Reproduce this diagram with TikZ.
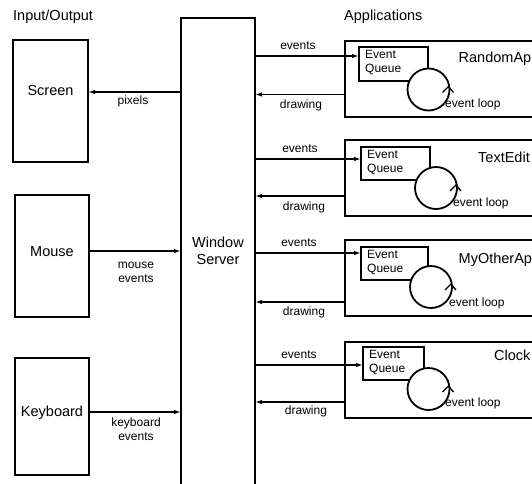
\documentclass[tikz,border=0pt]{standalone}
\usepackage{fontspec}
\setmainfont{Liberation Sans}
\usetikzlibrary{arrows.meta,calc}
\begin{document}
\begin{tikzpicture}[x=1pt,y=-1pt,
  box/.style={draw, line width=1.4pt, anchor=north west, inner sep=0pt, outer sep=0pt},
  appbox/.style={draw, line width=1.8pt, anchor=north west, inner sep=0pt, outer sep=0pt},
  qbox/.style={draw, line width=1.5pt, anchor=north west, inner sep=0pt, outer sep=0pt},
  big/.style={font=\fontsize{14.5}{17}\selectfont, inner sep=0pt, anchor=base},
  small/.style={font=\fontsize{12}{14}\selectfont, inner sep=0pt, anchor=base},
  arr/.style={line width=1.4pt, -{Latex[length=7pt,width=4.5pt]}},
  loopc/.style={circle, draw, line width=1.8pt, fill=white, minimum size=42pt, inner sep=0pt, outer sep=0pt},
  chev/.style={line width=1.3pt, line join=miter},
]
\useasboundingbox (0,0) rectangle (532,483);
\clip (0,0) rectangle (532,483);

% Input/Output side
\node[big, anchor=base west] (iolab) at (13,20) {Input/Output};
\node[big, anchor=base west] (applab) at (344,20) {Applications};

\node[box, minimum width=75pt, minimum height=122pt] (screen) at (13,40) {};
\node[box, minimum width=74pt, minimum height=122pt] (mouse) at (15,195) {};
\node[box, minimum width=74pt, minimum height=117pt] (keyb) at (15,358) {};
\node[big] (screent) at (50.5,95) {Screen};
\node[big] (mouset) at (52,256) {Mouse};
\node[big] (keybt) at (52,416) {Keyboard};

\node[box, minimum width=74pt, minimum height=520pt] (ws) at (181,18) {};
\node[big, align=center] (wst) at (218,264) {Window\\Server};

\draw[arr] (ws.west |- 0,92) -- (screen.east |- 0,92);
\draw[arr] (mouse.east |- 0,251) -- (ws.west |- 0,251);
\draw[arr] (keyb.east |- 0,412) -- (ws.west |- 0,412);
\node[small] (pixl) at (133,104) {pixels};
\node[small, align=center] (mousel) at (136,282) {mouse\\events};
\node[small, align=center] (keybl) at (136,440) {keyboard\\events};

% Applications
\foreach \n/\T/\ev/\dr/\evl/\evx/\drl/\drx/\qx/\qy/\qw/\qh/\cx/\cy/\elx/\ely/\tx/\ty/\title in {
  a/41/56/94.5/49.5/298/108/301/359/47/69/34/428.5/89.5/445/107/458.5/62/RandomAp,
  b/140/159/196/152/300/210/304/361/147/69/33/436/188/453/206/478/162/TextEdit,
  c/240/253/302/246/299/315/304/361/247/67/33/431/287/449/306/458.5/263/MyOtherAp,
  d/342/365/402/358/299/414/306/363/347/61/33/428.5/389/445/406/494/360/Clock}{
  \node[appbox, minimum width=200pt, minimum height=76pt] (app\n) at (345,\T) {};
  \node[qbox, minimum width=\qw pt, minimum height=\qh pt] (q\n) at (\qx,\qy) {};
  \node[small, anchor=base west, align=left] (qt\n) at (\qx+6,\qy+25.5) {Event\\Queue};
  \node[loopc] (c\n) at (\cx,\cy) {};
  \draw[chev] ($(c\n.center)+(14,3)$) -- ($(c\n.center)+(20,-3)$) -- ($(c\n.center)+(25,3)$);
  \node[small, anchor=base west] (el\n) at (\elx,\ely) {event loop};
  \node[big, anchor=base west] (t\n) at (\tx,\ty) {\title};
  \draw[arr] (ws.east |- 0,\ev) -- (q\n.west |- 0,\ev);
  \draw[arr] (app\n.west |- 0,\dr) -- (ws.east |- 0,\dr);
  \node[small] (evl\n) at (\evx,\evl) {events};
  \node[small] (drl\n) at (\drx,\drl) {drawing};
}
\end{tikzpicture}
\end{document}
